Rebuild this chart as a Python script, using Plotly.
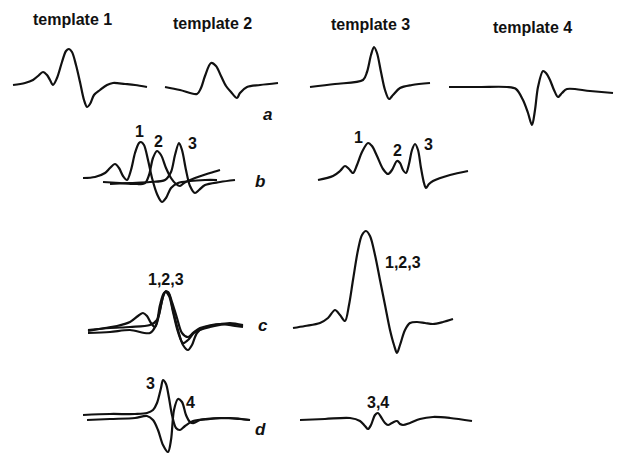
import plotly.graph_objects as go

# ---------------- data: waveform shapes (time offset, amplitude; up = positive) ----------------
# row a: the four templates
a1_t = [0, 12, 20, 25, 30, 34, 37, 40, 44, 49, 53, 56, 59, 63, 67, 71, 74, 77, 81, 87, 94, 100, 112, 122, 134]
a1_v = [0, 2, 5, 9, 13, 10, 5, 0, 7, 23, 34, 36, 33, 20, 3, -15, -22, -19, -10, -5, 0, 2, 1, 0, -2]
a2_t = [0, 15, 32, 36, 40, 46, 51, 56, 61, 66, 72, 75, 82, 95, 113]
a2_v = [0, -3, -7, -1, 11, 24, 21, 11, 1, -5, -11, -6, 0, 2, 4]
a3_t = [0, 25, 53, 57, 61, 64, 67, 71, 75, 79, 83, 90, 102, 120]
a3_v = [0, 3, 7, 15, 32, 40, 34, 15, -3, -12, -8, -1, 2, 4]
a4_t = [0, 31, 58, 67, 74, 79, 83, 86, 89, 94, 97, 101, 105, 109, 113, 118, 141, 164]
a4_v = [0, 0, 0, -2, -13, -26, -38, -23, 0, 16, 14, 7, -3, -10, -6, -2, -4, -6]

# row b: three shifted spikes (left) and their sum (right)
b1_t = [0, 12, 22, 27, 32, 36, 40, 44, 48, 52, 56, 58, 61, 65, 69, 74, 79, 83, 88, 95, 107, 122, 134]
b1_v = [0, 1, 5, 10, 14, 10, 2, -2, 8, 25, 35, 36, 33, 18, 0, -16, -24, -20, -10, -5, -3, -2, -2]
b2_t = [0, 17, 32, 42, 46, 50, 54, 58, 63, 68, 73, 77, 81, 92, 107, 117]
b2_v = [0, -1, -2, -1, 7, 24, 31, 27, 14, 4, -2, -4, -1, 4, 9, 12]
b3_t = [0, 20, 40, 55, 61, 65, 69, 72, 76, 80, 85, 89, 95, 110, 125]
b3_v = [0, 1, 2, 4, 12, 29, 41, 34, 14, -2, -9, -6, -1, 2, 4]
bs_t = [0, 15, 22, 27, 31, 35, 39, 44, 50, 54, 59, 65, 70, 74, 79, 82, 85, 88, 91, 94, 97, 100,
        103, 106, 108, 111, 115, 132, 150]
bs_v = [0, 4, 9, 14, 11, 7, 15, 28, 37, 34, 24, 11, 6, 10, 19, 17, 10, 7, 16, 30, 36, 30,
        12, -3, -8, -4, -1, 5, 9]

# row c: three aligned spikes (left) and their sum (right)
c1_t = [0, 17, 29, 42, 50, 55, 59, 63, 67, 71, 75, 78, 81, 85, 90, 95, 100, 104, 109, 117, 132, 147, 155]
c1_v = [0, 3, 5, 9, 15, 18, 15, 8, 4, 16, 34, 40, 37, 21, 1, -14, -19, -14, -2, 4, 7, 5, 4]
c2_t = [0, 22, 42, 62, 68, 72, 76, 80, 84, 89, 94, 100, 105, 112, 127, 142, 155]
c2_v = [0, 1, 3, 0, 8, 28, 40, 41, 31, 15, 0, -4, 0, 5, 8, 10, 8]
c3_t = [0, 22, 42, 62, 69, 73, 77, 81, 85, 90, 95, 100, 107, 122, 142, 155]
c3_v = [0, 2, 3, 5, 10, 25, 38, 34, 18, -2, -13, -10, -2, 3, 6, 4]
cs_t = [0, 12, 27, 35, 42, 47, 52, 56, 60, 65, 69, 73, 77, 82, 87, 92, 97, 101, 104, 107, 112,
        117, 124, 132, 140, 150, 160]
cs_v = [0, 2, 5, 10, 18, 13, 7, 23, 48, 78, 93, 97, 92, 73, 48, 23, -2, -17, -25, -17, -2,
        5, 6, 5, 4, 6, 9]

# row d: two opposing spikes (left) and their sum (right)
d3_t = [0, 27, 52, 64, 70, 74, 78, 80, 83, 86, 89, 93, 97, 102, 110, 127, 147, 167]
d3_v = [0, 1, 1, 2, 5, 12, 27, 35, 31, 17, 0, -13, -15, -11, -6, -4, -3, -5]
d4_t = [0, 23, 48, 60, 66, 71, 76, 81, 84, 87, 91, 95, 99, 103, 107, 113, 133, 153, 163]
d4_v = [0, 1, 2, 4, 0, -10, -25, -32, -20, 10, 21, 18, 5, -2, -3, 0, 2, 1, 0]
ds_t = [0, 25, 50, 60, 65, 68, 71, 75, 78, 81, 85, 88, 92, 97, 100, 103, 110, 120, 133, 150, 172]
ds_v = [0, 1, 2, -1, -6, -9, -5, 5, 7, 3, -3, -5, -3, -1, -4, -5, -3, 1, 3, 2, -1]

column_titles = ["template 1", "template 2", "template 3", "template 4"]
row_letters = ["a", "b", "c", "d"]
spike_labels = ["1", "2", "3", "1", "2", "3", "1,2,3", "1,2,3", "3", "4", "3,4"]

# ---------------- placement of each waveform on the page ----------------
waves = [
    (a1_t, a1_v, 13, 85), (a2_t, a2_v, 165, 87), (a3_t, a3_v, 310, 87), (a4_t, a4_v, 449, 87),
    (b1_t, b1_v, 83, 178), (b2_t, b2_v, 103, 182), (b3_t, b3_v, 110, 184), (bs_t, bs_v, 318, 180),
    (c1_t, c1_v, 88, 331), (c2_t, c2_v, 88, 333), (c3_t, c3_v, 88, 330), (cs_t, cs_v, 293, 328),
    (d3_t, d3_v, 83, 415), (d4_t, d4_v, 87, 420), (ds_t, ds_v, 300, 420),
]

fig = go.Figure()
for t, v, x0, y0 in waves:
    fig.add_trace(go.Scatter(
        x=[x0 + ti for ti in t], y=[y0 - vi for vi in v],
        mode="lines", line=dict(color="#111111", width=2.2, shape="spline", smoothing=0.9),
        hoverinfo="skip", showlegend=False))

font_main = "Liberation Sans, Arial, sans-serif"
title_pos = [(72, 19), (212, 23), (370, 24), (532, 27)]
for txt, (x, y) in zip(column_titles, title_pos):
    fig.add_annotation(x=x, y=y, text="<b>%s</b>" % txt, showarrow=False,
                       font=dict(family=font_main, size=16, color="#111111"))

letter_pos = [(267, 114), (260, 181), (263, 325), (260, 429)]
for txt, (x, y) in zip(row_letters, letter_pos):
    fig.add_annotation(x=x, y=y, text="<b><i>%s</i></b>" % txt, showarrow=False,
                       font=dict(family=font_main, size=17, color="#111111"))

label_pos = [(139, 131), (158, 141), (192, 143), (358, 137), (397, 150), (428, 144),
             (166, 279), (403, 262), (150, 383), (190, 402), (378, 402)]
for txt, (x, y) in zip(spike_labels, label_pos):
    fig.add_annotation(x=x, y=y, text="<b>%s</b>" % txt, showarrow=False,
                       font=dict(family=font_main, size=16, color="#111111"))

# the page body has an 8px margin, so the figure is made 8px smaller and the
# axis ranges start at 8 so that page pixels and data units coincide
fig.update_layout(
    width=623, height=452, margin=dict(l=0, r=0, t=0, b=0),
    paper_bgcolor="white", plot_bgcolor="white",
    xaxis=dict(range=[8, 631], visible=False, fixedrange=True),
    yaxis=dict(range=[460, 8], visible=False, fixedrange=True),
)
fig.write_html("out.html")
